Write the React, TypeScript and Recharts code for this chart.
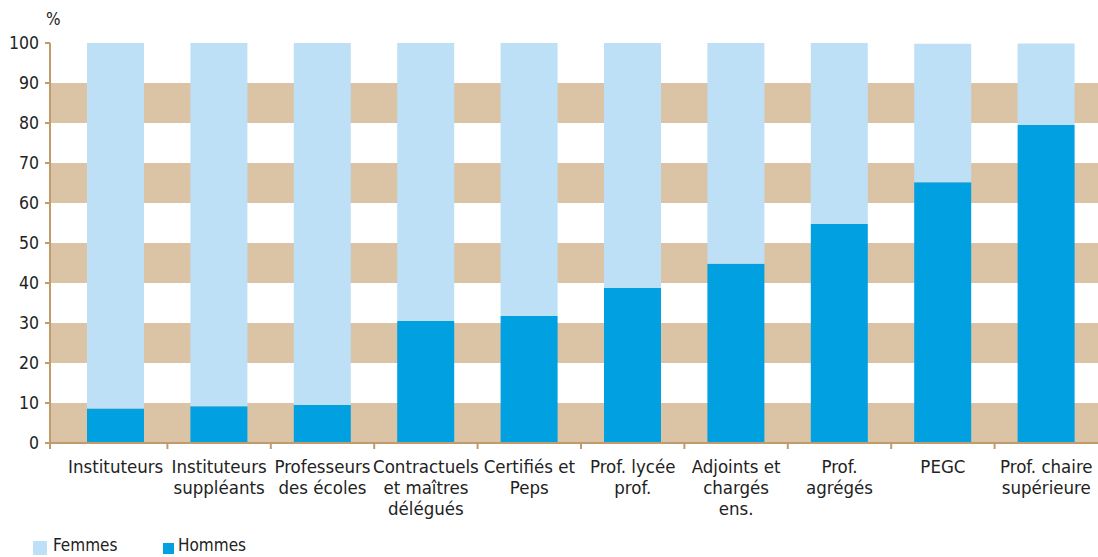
import { Bar, BarChart, CartesianGrid, Legend, XAxis, YAxis } from "recharts";

const categories = [
  "Instituteurs",
  "Instituteurs\nsuppléants",
  "Professeurs\ndes écoles",
  "Contractuels\net maîtres\ndélégués",
  "Certifiés et\nPeps",
  "Prof. lycée\nprof.",
  "Adjoints et\nchargés\nens.",
  "Prof.\nagrégés",
  "PEGC",
  "Prof. chaire\nsupérieure",
];
const hommes = [8.6, 9.2, 9.5, 30.5, 31.8, 38.8, 44.8, 54.8, 65.2, 79.5];
const femmes = [91.4, 90.8, 90.7, 69.5, 68.3, 61.2, 55.2, 45.2, 34.6, 20.4];
const yTicks = [0, 10, 20, 30, 40, 50, 60, 70, 80, 90, 100];

const data = categories.map((name, i) => ({
  name,
  hommes: hommes[i],
  femmes: femmes[i],
}));

const FONT = "'DejaVu Sans', sans-serif";
const TAN = "#c29b6c";
const HALF_BAND = 51.7;

function CatTick({ x, y, payload, index }: any) {
  const lines = String(payload.value).split("\n");
  return (
    <g>
      {index === 0 && (
        <line x1={x - HALF_BAND - 14} x2={x - HALF_BAND - 14} y1={y} y2={y + 6} stroke={TAN} strokeWidth={2} />
      )}
      {index < categories.length - 1 && (
        <line x1={x + HALF_BAND} x2={x + HALF_BAND} y1={y} y2={y + 6} stroke={TAN} strokeWidth={2} />
      )}
      <text
        x={x}
        y={y + 30}
        textAnchor="middle"
        fill="#222"
        fontSize={18.5}
        fontFamily={FONT}
        style={{ fontStretch: "condensed" }}
      >
        {lines.map((l, i) => (
          <tspan key={i} x={x} dy={i === 0 ? 0 : 21}>
            {l}
          </tspan>
        ))}
      </text>
    </g>
  );
}

function LegendBox() {
  const txt = { position: "absolute" as const, top: 12, lineHeight: "20px" };
  return (
    <div style={{ position: "relative", height: 34, fontFamily: FONT, fontStretch: "condensed", fontSize: 17, color: "#222" }}>
      <div style={{ position: "absolute", left: 33, top: 18, width: 14, height: 14, background: "#bde0f6" }} />
      <div style={{ ...txt, left: 53 }}>Femmes</div>
      <div style={{ position: "absolute", left: 163, top: 20, width: 11, height: 11, background: "#00a0e1" }} />
      <div style={{ ...txt, left: 178 }}>Hommes</div>
    </div>
  );
}

export default function App() {
  return (
    <div style={{ position: "absolute", left: 0, top: 0, width: 1098, height: 557, background: "#fff", overflow: "hidden" }}>
      <div style={{ position: "absolute", left: 46, top: 9, fontFamily: FONT, fontStretch: "condensed", fontSize: 17, color: "#222" }}>%</div>
      <BarChart
        width={1098}
        height={557}
        data={data}
        margin={{ top: 43, right: 0, bottom: 0, left: 0 }}
        barSize={57}
      >
        <CartesianGrid
          vertical={false}
          stroke="none"
          horizontalFill={["#ffffff", "#dbc4a6"]}
          fillOpacity={1}
        />
        <XAxis
          dataKey="name"
          height={80}
          interval={0}
          padding={{ left: 14, right: 0 }}
          axisLine={{ stroke: TAN, strokeWidth: 2 }}
          tickLine={false}
          tickSize={0}
          tickMargin={0}
          tick={<CatTick />}
        />
        <YAxis
          width={50}
          domain={[0, 100]}
          ticks={yTicks}
          interval={0}
          allowDataOverflow
          axisLine={{ stroke: TAN, strokeWidth: 2 }}
          tickLine={{ stroke: TAN, strokeWidth: 2 }}
          tickSize={5}
          tickMargin={6}
          tick={{ fill: "#222", fontSize: 17.5, fontFamily: FONT, style: { fontStretch: "condensed" } }}
        />
        <Legend verticalAlign="bottom" height={34} content={<LegendBox />} wrapperStyle={{ left: 0, width: 1098 }} />
        <Bar dataKey="hommes" stackId="a" fill="#00a0e1" isAnimationActive={false} />
        <Bar dataKey="femmes" stackId="a" fill="#bde0f6" isAnimationActive={false} />
      </BarChart>
    </div>
  );
}
